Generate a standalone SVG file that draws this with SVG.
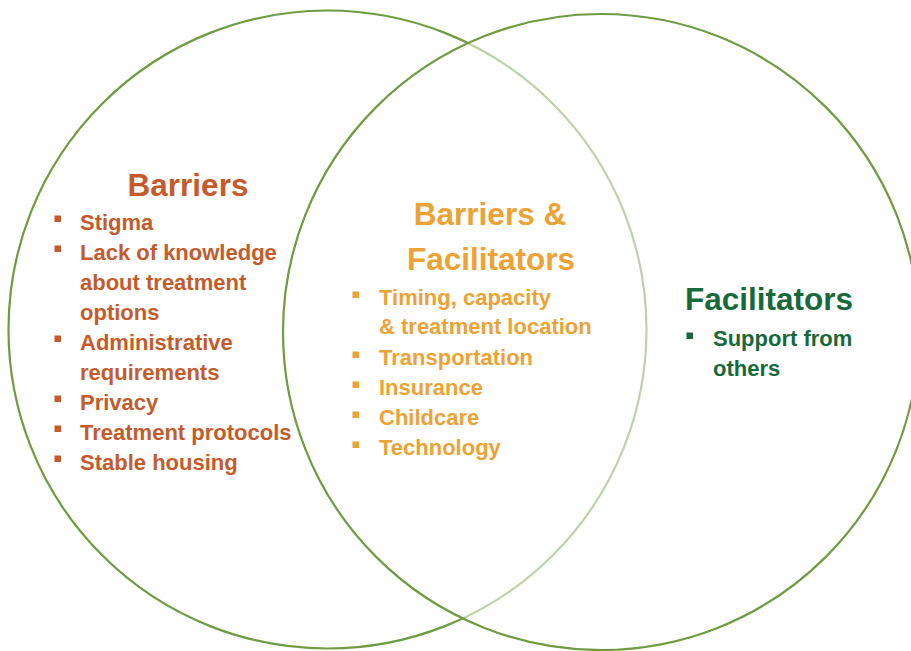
<svg xmlns="http://www.w3.org/2000/svg" width="911" height="651" viewBox="0 0 911 651">
  <style>
    .ring { stroke: #6f9b43; stroke-width: 2.2; }
    .title { font-family: "Liberation Sans", Arial, sans-serif; font-weight: bold; font-size: 31.5px; text-anchor: middle; }
    .item { font-family: "Liberation Sans", Arial, sans-serif; font-weight: bold; font-size: 22px; }
    .barrier { fill: #c55b2b; }
    .shared { fill: #eda236; }
    .facil { fill: #17693c; }
  </style>
  <rect width="911" height="651" fill="#ffffff"/>

  <!-- left set -->
  <g id="set-barriers">
    <circle class="ring" cx="327.5" cy="329.5" r="319" fill="none"/>
  </g>
  <!-- right set: translucent white fill softens the left ring where they overlap -->
  <g id="set-facilitators">
    <circle class="ring" cx="601" cy="332" r="318" fill="#ffffff" fill-opacity="0.55"/>
  </g>

  <g id="barriers" class="barrier">
    <text class="title barrier" x="188" y="196">Barriers</text>
    <rect x="54.5" y="215.5" width="6.5" height="6.5"/>
    <text class="item" x="80" y="230">Stigma</text>
    <rect x="54.5" y="245.5" width="6.5" height="6.5"/>
    <text class="item" x="80" y="260">Lack of knowledge</text>
    <text class="item" x="80" y="290">about treatment</text>
    <text class="item" x="80" y="320">options</text>
    <rect x="54.5" y="335.5" width="6.5" height="6.5"/>
    <text class="item" x="80" y="350">Administrative</text>
    <text class="item" x="80" y="380">requirements</text>
    <rect x="54.5" y="395.5" width="6.5" height="6.5"/>
    <text class="item" x="80" y="410">Privacy</text>
    <rect x="54.5" y="425.5" width="6.5" height="6.5"/>
    <text class="item" x="80" y="440">Treatment protocols</text>
    <rect x="54.5" y="455.5" width="6.5" height="6.5"/>
    <text class="item" x="80" y="470">Stable housing</text>
  </g>

  <g id="barriers-and-facilitators" class="shared">
    <text class="title shared" x="490" y="225">Barriers &amp;</text>
    <text class="title shared" x="491" y="270">Facilitators</text>
    <rect x="352.5" y="291.5" width="6.5" height="6.5"/>
    <text class="item" x="379" y="305">Timing, capacity</text>
    <text class="item" x="379" y="334">&amp; treatment location</text>
    <rect x="352.5" y="351.5" width="6.5" height="6.5"/>
    <text class="item" x="379" y="365">Transportation</text>
    <rect x="352.5" y="381.5" width="6.5" height="6.5"/>
    <text class="item" x="379" y="395">Insurance</text>
    <rect x="352.5" y="411.5" width="6.5" height="6.5"/>
    <text class="item" x="379" y="425">Childcare</text>
    <rect x="352.5" y="441.5" width="6.5" height="6.5"/>
    <text class="item" x="379" y="455">Technology</text>
  </g>

  <g id="facilitators" class="facil">
    <text class="title facil" x="769" y="310">Facilitators</text>
    <rect x="686.5" y="332.5" width="6.5" height="6.5"/>
    <text class="item" x="713" y="346">Support from</text>
    <text class="item" x="713" y="376">others</text>
  </g>
</svg>
